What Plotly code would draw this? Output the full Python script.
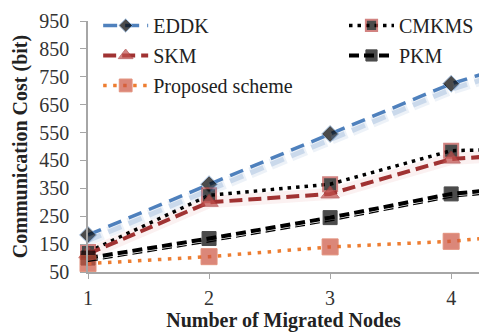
import plotly.graph_objects as go

# Number of migrated nodes (the fifth category lies just past the visible range)
nodes = [1, 2, 3, 4, 5]

# Communication cost in bits for each scheme
eddk = [183, 365, 545, 725, 860]
cmkms = [122, 325, 365, 485, 495]
skm = [115, 300, 330, 455, 485]
pkm = [100, 170, 245, 330, 370]
proposed = [80, 105, 140, 160, 200]

y_ticks = [50, 150, 250, 350, 450, 550, 650, 750, 850, 950]

FONT = "Liberation Serif"
BLUE = "rgb(79,129,189)"
DARK_RED = "rgb(160,50,50)"
RED = "rgb(192,80,77)"
ORANGE = "rgb(237,125,49)"


def sizes(s):
    # hide the marker of the off-screen category
    return [s, s, s, s, 0]


fig = go.Figure()

# soft drop shadows drawn on offset copies of the value axis
fig.add_trace(go.Scatter(x=nodes, y=eddk, yaxis="y2", mode="lines", showlegend=False,
                         hoverinfo="skip",
                         line=dict(color="rgba(79,129,189,0.10)", width=11, dash="16px,6px")))
fig.add_trace(go.Scatter(x=nodes, y=eddk, yaxis="y2", mode="lines", showlegend=False,
                         hoverinfo="skip",
                         line=dict(color="rgba(79,129,189,0.22)", width=5, dash="14px,8px")))
fig.add_trace(go.Scatter(x=nodes, y=skm, mode="lines", showlegend=False, hoverinfo="skip",
                         line=dict(color="rgba(200,80,80,0.08)", width=12)))
fig.add_trace(go.Scatter(x=nodes, y=pkm, yaxis="y3", mode="lines", showlegend=False,
                         hoverinfo="skip",
                         line=dict(color="black", width=1.2, dash="10px,5px")))

fig.add_trace(go.Scatter(
    x=nodes, y=eddk, name="EDDK", legend="legend", legendgroup="a",
    mode="lines+markers", cliponaxis=False,
    line=dict(color=BLUE, width=3.5, dash="14px,8px"),
    marker=dict(symbol="diamond", size=sizes(13), color="black",
                line=dict(color="rgb(140,180,225)", width=1))))
fig.add_trace(go.Scatter(
    x=nodes, y=cmkms, name="CMKMS", legend="legend2", legendgroup="b",
    mode="lines+markers", cliponaxis=False,
    line=dict(color="black", width=3.5, dash="3.5px,5px"),
    marker=dict(symbol="square", size=sizes(14), color="black",
                line=dict(color=RED, width=2))))
fig.add_trace(go.Scatter(
    x=nodes, y=skm, name="SKM", legend="legend", legendgroup="c",
    mode="lines+markers", cliponaxis=False,
    line=dict(color=DARK_RED, width=4, dash="13px,6px"),
    marker=dict(symbol="triangle-up", size=sizes(16), color=RED,
                line=dict(color="rgb(170,60,60)", width=1))))
fig.add_trace(go.Scatter(
    x=nodes, y=pkm, name="PKM", legend="legend2", legendgroup="d",
    mode="lines+markers", cliponaxis=False,
    line=dict(color="black", width=4, dash="10px,5px"),
    marker=dict(symbol="square", size=sizes(14), color="black",
                line=dict(color="black", width=1))))
fig.add_trace(go.Scatter(
    x=nodes, y=proposed, name="Proposed scheme", legend="legend", legendgroup="e",
    mode="lines+markers", cliponaxis=False,
    line=dict(color=ORANGE, width=3.5, dash="3.5px,6.5px"),
    marker=dict(symbol="square", size=sizes(16), color="rgb(205,85,65)",
                line=dict(color="rgb(215,100,70)", width=1))))

axis_font = dict(family=FONT, size=20, color="#333333")
legend_common = dict(
    orientation="v", bgcolor="rgba(0,0,0,0)", borderwidth=0,
    font=dict(family=FONT, size=20, color="#222222"),
    traceorder="grouped", tracegroupgap=1, itemwidth=45,
    xanchor="left", yanchor="top", yref="paper",
)

fig.update_layout(
    width=479, height=335,
    margin=dict(l=88, r=0, t=21, b=63),
    paper_bgcolor="white", plot_bgcolor="white",
    xaxis=dict(
        range=[1, 4.23], tickmode="array", tickvals=[1, 2, 3, 4],
        showgrid=False, zeroline=False,
        showline=True, linecolor="#A6A6A6", linewidth=1.5,
        ticks="outside", ticklen=5, tickcolor="#A6A6A6",
        ticklabelstandoff=2, tickfont=axis_font,
        title=dict(text="Number of Migrated Nodes", standoff=4,
                   font=dict(family=FONT, size=20, color="#222222", weight="bold")),
    ),
    yaxis=dict(
        range=[50, 950], tickmode="array", tickvals=y_ticks,
        showgrid=False, zeroline=False,
        showline=True, linecolor="#A6A6A6", linewidth=1.5,
        ticks="outside", ticklen=6, tickcolor="#A6A6A6",
        ticklabelstandoff=7, tickfont=axis_font,
        title=dict(text="Communication Cost (bit)", standoff=6,
                   font=dict(family=FONT, size=20, color="#222222", weight="bold")),
    ),
    yaxis2=dict(range=[70, 970], overlaying="y", visible=False),
    yaxis3=dict(range=[62, 962], overlaying="y", visible=False),
    legend=dict(x=0.026, y=1.06, **legend_common),
    legend2=dict(x=0.655, y=1.06, **legend_common),
)

fig.write_html("out.html")
